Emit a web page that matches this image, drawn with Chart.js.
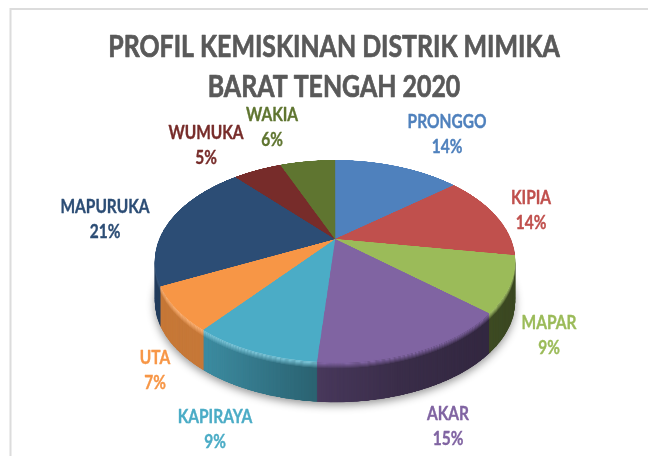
<!DOCTYPE html>
<html>
<head>
<meta charset="utf-8">
<style>
html,body{margin:0;padding:0;background:#fff;overflow:hidden}
canvas{display:block;filter:blur(0.35px)}
</style>
<script src="https://cdn.jsdelivr.net/npm/chart.js@4"></script>
</head>
<body>
<canvas id="c" width="648" height="456"></canvas>
<script>
const titleLines = ['PROFIL KEMISKINAN DISTRIK MIMIKA', 'BARAT TENGAH 2020'];
const categories = ['PRONGGO','KIPIA','MAPAR','AKAR','KAPIRAYA','UTA','MAPURUKA','WUMUKA','WAKIA'];
const values = [14,13.6,8.9,14.8,9.4,7,20.8,5.4,6.1];
const colors = ['#4f81bd','#c0504d','#9bbb59','#8064a2','#4bacc6','#f79646','#2c4d75','#772c2a','#5f7530'];
const labelX = [447,531,549,448,215,155,105,206,272];
const labelY = [122,198,323,414,417,358,207,133,115];
const rimStrength = [0,0,.1,0,.25,.25,.1,0,0];

const W=648,H=456;
const CX=335, CY=239, R=180, DEPTH=40;
const T_=0.2178, KR=96.2, S=175.7, SS=2;      // perspective of the pie plane
const wallStops=[[0,.80],[.15,.80],[.46,.56],[.68,.45],[1,.38]];

function rgb(h){return [1,3,5].map(i=>parseInt(h.substr(i,2),16));}
function css(a){return 'rgb('+a.map(v=>Math.round(v)).join(',')+')';}
function mix(a,b,t){return a.map((v,i)=>v+(b[i]-v)*t);}
function mk(w,h){const c=document.createElement('canvas');c.width=w;c.height=h;return c;}

// library arcs drawn flat, then projected row by row
function flatPie(arcs,fills){
  const size=(R+4)*2*SS, c=mk(size,size), g=c.getContext('2d');
  arcs.forEach((arc,i)=>{
    const o=Object.create(arc.options,{backgroundColor:{value:fills[i]},borderColor:{value:fills[i]},borderWidth:{value:0.5}});
    const a=Object.create(arc,{options:{value:o}});
    g.save();
    g.translate(size/2,size/2);
    g.scale(SS,SS);
    g.translate(-arc.x,-arc.y);
    a.draw(g);
    g.restore();
  });
  return c;
}
function nAt(dy){return dy/(KR+T_*dy);}
function project(src){
  const c=mk(W,H), g=c.getContext('2d'), size=src.width, rs=R*SS;
  g.imageSmoothingEnabled=true;
  for(let y=150;y<375;y++){
    const n0=nAt(y-CY), n1=nAt(y+1-CY), n=(n0+n1)/2;
    if(n1<-1.02||n0>1.02) continue;
    const s=S/(1-T_*n);
    const dw=size*s/rs;
    g.drawImage(src,0,size/2+n0*rs,size,(n1-n0)*rs,CX-dw/2,y,dw,1);
  }
  return c;
}

const pie3d={
  id:'pie3d',
  beforeDraw(chart){
    const ctx=chart.ctx;
    ctx.save();
    ctx.strokeStyle='#dcdcdc';
    ctx.lineWidth=2;
    ctx.beginPath();
    ctx.moveTo(10.5,456);ctx.lineTo(10.5,9);ctx.lineTo(648,9);
    ctx.stroke();
    ctx.restore();
  },
  beforeDatasetsDraw(chart){
    const ctx=chart.ctx;
    const arcs=chart.getDatasetMeta(0).data;
    const top=project(flatPie(arcs,colors));
    const rim=project(flatPie(arcs,colors.map((c,i)=>css(mix(rgb(c),[255,255,255],rimStrength[i])))));
    // side wall colour: same outline, darkened across x
    const wall=project(flatPie(arcs,colors));
    const wg=wall.getContext('2d');
    const grad=wg.createLinearGradient(CX-R,0,CX+R,0);
    wallStops.forEach(s=>grad.addColorStop(s[0],'rgba(0,0,0,'+(1-s[1])+')'));
    wg.globalCompositeOperation='source-atop';
    wg.fillStyle=grad;
    wg.fillRect(0,0,W,H);
    // soft drop shadow
    ctx.save();
    ctx.shadowColor='rgba(0,0,0,0.42)';
    ctx.shadowBlur=9;
    ctx.shadowOffsetY=3;
    ctx.drawImage(wall,0,DEPTH);
    ctx.restore();
    for(let d=DEPTH;d>=1;d--){
      ctx.drawImage(wall,0,d);
      const w=d<=2?1:d<=6?(7-d)/5:0;
      if(w>0){
        ctx.save();
        ctx.globalAlpha=w;
        ctx.drawImage(rim,0,d);
        ctx.restore();
      }
    }
    ctx.drawImage(top,0,0);
    return false;
  },
  afterDraw(chart){
    const ctx=chart.ctx;
    const stretched=(text,x,y,xs,sw)=>{
      ctx.save();
      ctx.translate(x,y);
      ctx.scale(xs,1);
      ctx.lineWidth=sw;
      ctx.lineJoin='round';
      ctx.strokeStyle=ctx.fillStyle;
      ctx.strokeText(text,0,0);
      ctx.fillText(text,0,0);
      ctx.restore();
    };
    ctx.save();
    ctx.textAlign='center';
    ctx.textBaseline='middle';
    ctx.font='bold 30px Lato';
    ctx.fillStyle='#595959';
    stretched(titleLines[0],334,47,0.83,0.7);
    stretched(titleLines[1],334,87,0.83,0.7);
    ctx.font='bold 18px Lato';
    const total=values.reduce((a,b)=>a+b,0);
    categories.forEach((name,i)=>{
      ctx.fillStyle=colors[i];
      stretched(name,labelX[i],labelY[i],0.86,0.35);
      stretched(Math.round(values[i]/total*100)+'%',labelX[i],labelY[i]+25,0.86,0.35);
    });
    ctx.restore();
  }
};

new Chart(document.getElementById('c'),{
  type:'pie',
  data:{labels:categories,datasets:[{data:values,backgroundColor:colors,borderWidth:0}]},
  plugins:[pie3d],
  options:{
    responsive:false,
    animation:false,
    radius:R,
    plugins:{
      legend:{display:false},
      tooltip:{enabled:false},
      title:{display:false,text:titleLines}
    }
  }
});
</script>
</body>
</html>
